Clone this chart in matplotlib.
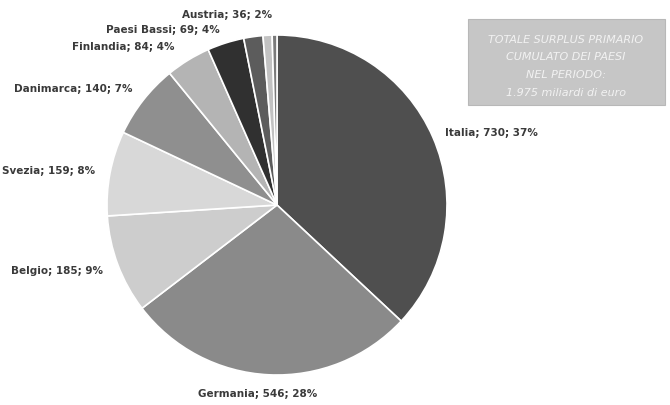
import matplotlib
matplotlib.use('Agg')
from matplotlib import pyplot as plt

# surplus primario cumulato (miliardi di euro)
paesi = ['Italia', 'Germania', 'Belgio', 'Svezia', 'Danimarca', 'Finlandia',
         'Paesi Bassi', 'Austria', 'Altri 1', 'Altri 2']
valori = [730, 546, 185, 159, 140, 84, 69, 36, 17, 9]
percentuali = [37, 28, 9, 8, 7, 4, 4, 2, None, None]
colori = ['#4f4f4f', '#8a8a8a', '#cdcdcd', '#d8d8d8', '#8f8f8f', '#b4b4b4',
          '#303030', '#5c5c5c', '#c2c2c2', '#7a7a7a']

# label placement in pixels (x, y, alignment), Excel-like "best fit"
label_pos = [(445, 133, 'left'), (258, 394, 'center'), (103, 271, 'right'),
             (95, 171, 'right'), (133, 89, 'right'), (175, 47, 'right'),
             (220, 30, 'right'), (272, 15, 'right')]

W, H = 670, 405
fig = plt.figure(figsize=[W / 100, H / 100], dpi=100)
cx, cy, r = 277, 205, 170
ax = fig.add_axes([(cx - r) / W, 1 - (cy + r) / H, 2 * r / W, 2 * r / H])

ax.pie(valori, colors=colori, startangle=90, counterclock=False, radius=1,
       wedgeprops=dict(edgecolor='white', linewidth=1.2))
ax.set_xlim(-1, 1)
ax.set_ylim(-1, 1)
ax.set_aspect('equal')
ax.axis('off')

for i, (x, y, ha) in enumerate(label_pos):
    testo = '%s; %d; %d%%' % (paesi[i], valori[i], percentuali[i])
    fig.text(x / W, 1 - y / H, testo, ha=ha, va='center', fontsize=7.5,
             fontweight='bold', color='#3a3a3a', family='DejaVu Sans')

# summary box
bx0, by0, bx1, by1 = 468, 19, 665, 105
box = plt.Rectangle((bx0 / W, 1 - by1 / H), (bx1 - bx0) / W, (by1 - by0) / H,
                    transform=fig.transFigure, facecolor='#c6c6c6',
                    edgecolor='#b8b8b8', linewidth=0.8)
fig.patches.append(box)
righe = ['TOTALE SURPLUS PRIMARIO', 'CUMULATO DEI PAESI', 'NEL PERIODO:',
         '1.975 miliardi di euro']
for k, riga in enumerate(righe):
    fig.text(566 / W, 1 - (40 + k * 17.5) / H, riga, ha='center', va='center',
             fontsize=8, fontstyle='italic', color='#f2f2f2',
             family='DejaVu Sans')

fig.savefig('out.png', dpi=100)
